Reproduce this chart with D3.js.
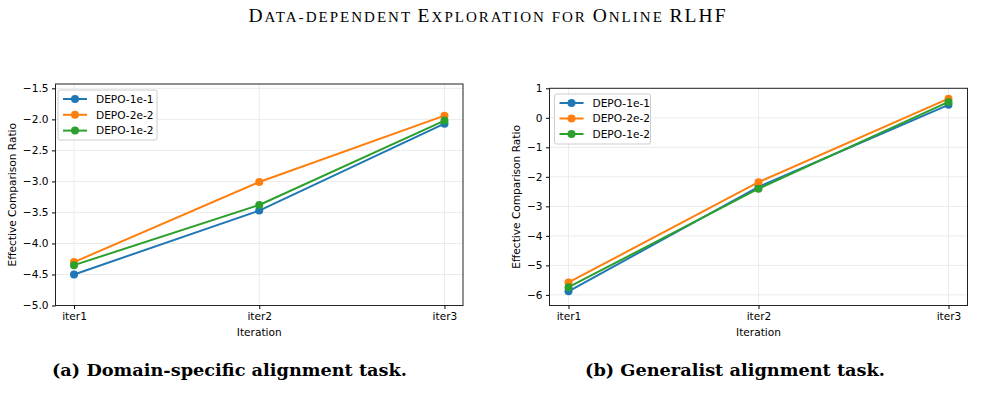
<!DOCTYPE html>
<html>
<head>
<meta charset="UTF-8">
<script src="https://cdn.jsdelivr.net/npm/d3@7"></script>
<style>
  body { margin: 0; background: #fff; }
</style>
</head>
<body>
<script>
// data
var iterations = ["iter1", "iter2", "iter3"];
var seriesNames = ["DEPO-1e-1", "DEPO-2e-2", "DEPO-1e-2"];
var colors = ["#1f77b4", "#ff7f0e", "#2ca02c"];

// (a) domain-specific
var domainBlue = [-4.50, -3.47, -2.07];
var domainOrange = [-4.30, -3.01, -1.94];
var domainGreen = [-4.35, -3.38, -2.02];
var domainTicks = [-5.0, -4.5, -4.0, -3.5, -3.0, -2.5, -2.0, -1.5];

// (b) generalist
var generalBlue = [-5.88, -2.34, 0.44];
var generalOrange = [-5.58, -2.18, 0.65];
var generalGreen = [-5.74, -2.40, 0.54];
var generalTicks = [-6, -5, -4, -3, -2, -1, 0, 1];

var title = "Data-dependent Exploration for Online RLHF";
var captionA = "(a) Domain-specific alignment task.";
var captionB = "(b) Generalist alignment task.";

var SANS = "'DejaVu Sans', sans-serif";
var FS = "10.6px";

var svg = d3.select("body").append("svg")
    .attr("width", 986)
    .attr("height", 407);

// title in hand-made small caps
var t = svg.append("text")
    .attr("x", 487)
    .attr("y", 22)
    .attr("text-anchor", "middle")
    .style("font-family", "'Liberation Serif', serif")
    .attr("textLength", 477)
    .attr("lengthAdjust", "spacing");
var chunks = title.match(/[A-Z]+|[^A-Z]+/g);
chunks.forEach(function(c) {
  var upper = c === c.toUpperCase() && /[A-Z]/.test(c);
  t.append("tspan")
      .style("font-size", upper ? "19.5px" : "15px")
      .text(c.toUpperCase());
});

function minusFmt(f) {
  return function(d) { return f(d).replace("-", "\u2212"); };
}

function drawPanel(opts) {
  var x = d3.scaleLinear().domain([-0.1, 2.1]).range([opts.left, opts.right]);
  var y = d3.scaleLinear().domain(opts.ydomain).range([opts.bottom, opts.top]);

  var g = svg.append("g");

  // grid
  g.selectAll(".hgrid").data(opts.ticks).enter().append("line")
      .attr("x1", opts.left).attr("x2", opts.right)
      .attr("y1", function(d) { return y(d); })
      .attr("y2", function(d) { return y(d); })
      .attr("stroke", "#ebebeb").attr("stroke-width", 1);
  g.selectAll(".vgrid").data(iterations).enter().append("line")
      .attr("x1", function(d, i) { return x(i); })
      .attr("x2", function(d, i) { return x(i); })
      .attr("y1", opts.top).attr("y2", opts.bottom)
      .attr("stroke", "#ebebeb").attr("stroke-width", 1);

  // axes
  var yAxis = d3.axisLeft(y).tickValues(opts.ticks).tickSize(3.5).tickPadding(3.5)
      .tickFormat(minusFmt(d3.format(opts.fmt)));
  var gy = g.append("g").attr("transform", "translate(" + opts.left + ",0)").call(yAxis);
  var xAxis = d3.axisBottom(x).tickValues([0, 1, 2]).tickSize(3.5).tickPadding(3.5)
      .tickFormat(function(d) { return iterations[d]; });
  var gx = g.append("g").attr("transform", "translate(0," + opts.bottom + ")").call(xAxis);
  [gx, gy].forEach(function(a) {
    a.attr("font-family", null).attr("font-size", null);
    a.select(".domain").remove();
    a.selectAll("text")
        .style("font-family", SANS)
        .style("font-size", FS)
        .attr("fill", "#000");
    a.selectAll("line").attr("stroke", "#000");
  });

  g.append("rect")
      .attr("x", opts.left).attr("y", opts.top)
      .attr("width", opts.right - opts.left)
      .attr("height", opts.bottom - opts.top)
      .attr("fill", "none").attr("stroke", "#222").attr("stroke-width", 1);

  // series
  var line = d3.line()
      .x(function(d, i) { return x(i); })
      .y(function(d) { return y(d); });
  opts.series.forEach(function(vals, k) {
    g.append("path")
        .attr("d", line(vals))
        .attr("fill", "none")
        .attr("stroke", colors[k])
        .attr("stroke-width", 2);
    g.selectAll(".pt" + k).data(vals).enter().append("circle")
        .attr("cx", function(d, i) { return x(i); })
        .attr("cy", function(d) { return y(d); })
        .attr("r", 4)
        .attr("fill", colors[k]);
  });

  // labels
  g.append("text")
      .attr("x", (opts.left + opts.right) / 2)
      .attr("y", 336)
      .attr("text-anchor", "middle")
      .style("font-family", SANS)
      .style("font-size", FS)
      .text("Iteration");
  g.append("text")
      .attr("transform", "translate(" + opts.ylabelX + "," + ((opts.top + opts.bottom) / 2) + ") rotate(-90)")
      .attr("text-anchor", "middle")
      .attr("dy", "0.35em")
      .style("font-family", SANS)
      .style("font-size", FS)
      .text("Effective Comparison Ratio");

  // legend
  var lg = g.append("g").attr("transform", "translate(" + opts.legX + "," + opts.legY + ")");
  lg.append("rect")
      .attr("width", opts.legW).attr("height", 50).attr("rx", 2)
      .attr("fill", "#fff").attr("fill-opacity", 0.8)
      .attr("stroke", "#ccc");
  seriesNames.forEach(function(name, k) {
    var yy = 9 + k * opts.legStep;
    lg.append("line").attr("x1", 5).attr("x2", 29).attr("y1", yy).attr("y2", yy)
        .attr("stroke", colors[k]).attr("stroke-width", 2);
    lg.append("circle").attr("cx", 17).attr("cy", yy).attr("r", 4).attr("fill", colors[k]);
    lg.append("text").attr("x", 38).attr("y", yy).attr("dy", "0.35em")
        .style("font-family", SANS)
        .style("font-size", FS).text(name);
  });

  // caption
  svg.append("text")
      .attr("x", opts.capX)
      .attr("y", 376)
      .attr("text-anchor", "middle")
      .style("font-family", "'DejaVu Serif', serif")
      .style("font-weight", "bold")
      .style("font-size", "17px")
      .attr("textLength", opts.capW)
      .attr("lengthAdjust", "spacingAndGlyphs")
      .text(opts.caption);
}

drawPanel({
  left: 55.5, right: 463, top: 84, bottom: 305.5,
  ydomain: [-5.0, -1.43], ticks: domainTicks, fmt: ".1f",
  series: [domainBlue, domainOrange, domainGreen],
  ylabelX: 12, legX: 58, legY: 90, legW: 99, legStep: 15.8,
  capX: 229.5, capW: 355, caption: captionA
});

drawPanel({
  left: 549.5, right: 967.5, top: 88.3, bottom: 305.5,
  ydomain: [-6.36, 1.0], ticks: generalTicks, fmt: "d",
  series: [generalBlue, generalOrange, generalGreen],
  ylabelX: 516, legX: 554.5, legY: 94, legW: 96, legStep: 15.5,
  capX: 735, capW: 300, caption: captionB
});
</script>
</body>
</html>
